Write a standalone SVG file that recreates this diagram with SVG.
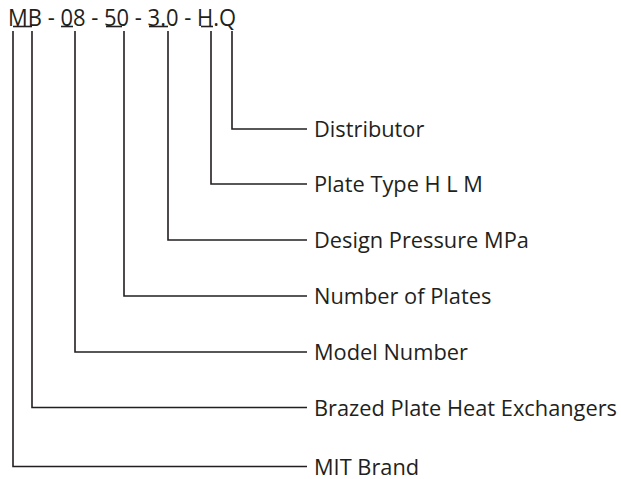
<svg xmlns="http://www.w3.org/2000/svg" width="621" height="479" viewBox="0 0 621 479">
<style>
.t{font-family:"Open Sans","Noto Sans",sans-serif;font-size:21.8px;fill:#231f20}
.h{font-family:"Open Sans","Noto Sans",sans-serif;font-size:24px;fill:#231f20}
.c{fill:none;stroke:#231f20;stroke-width:1.6}
</style>
<rect width="621" height="479" fill="#fff"/>
<g id="code">
<text class="h" x="8" y="25.5" textLength="228" lengthAdjust="spacingAndGlyphs">MB - 08 - 50 - 3.0 - H.Q</text>
<g class="c">
<line x1="13" y1="26.5" x2="32" y2="26.5"/>
<line x1="61" y1="26.5" x2="73" y2="26.5"/>
<line x1="106" y1="26.5" x2="122" y2="26.5"/>
<line x1="149" y1="26.5" x2="168" y2="26.5"/>
<line x1="201" y1="26.5" x2="213" y2="26.5"/>
</g>
</g>
<g id="connectors" class="c">
<polyline points="232,31 232,129 307,129"/>
<polyline points="211,31 211,184 307,184"/>
<polyline points="168,31 168,240 307,240"/>
<polyline points="124,31 124,296 307,296"/>
<polyline points="75,31 75,352 307,352"/>
<polyline points="32,31 32,407.5 307,407.5"/>
<polyline points="13,31 13,466.5 307,466.5"/>
</g>
<g id="n1"><text class="t" x="314" y="137">Distributor</text></g>
<g id="n2"><text class="t" x="314" y="192">Plate Type H L M</text></g>
<g id="n3"><text class="t" x="314" y="248">Design Pressure MPa</text></g>
<g id="n4"><text class="t" x="314" y="304">Number of Plates</text></g>
<g id="n5"><text class="t" x="314" y="360">Model Number</text></g>
<g id="n6"><text class="t" x="314" y="415.5">Brazed Plate Heat Exchangers</text></g>
<g id="n7"><text class="t" x="314" y="474.5">MIT Brand</text></g>
</svg>
